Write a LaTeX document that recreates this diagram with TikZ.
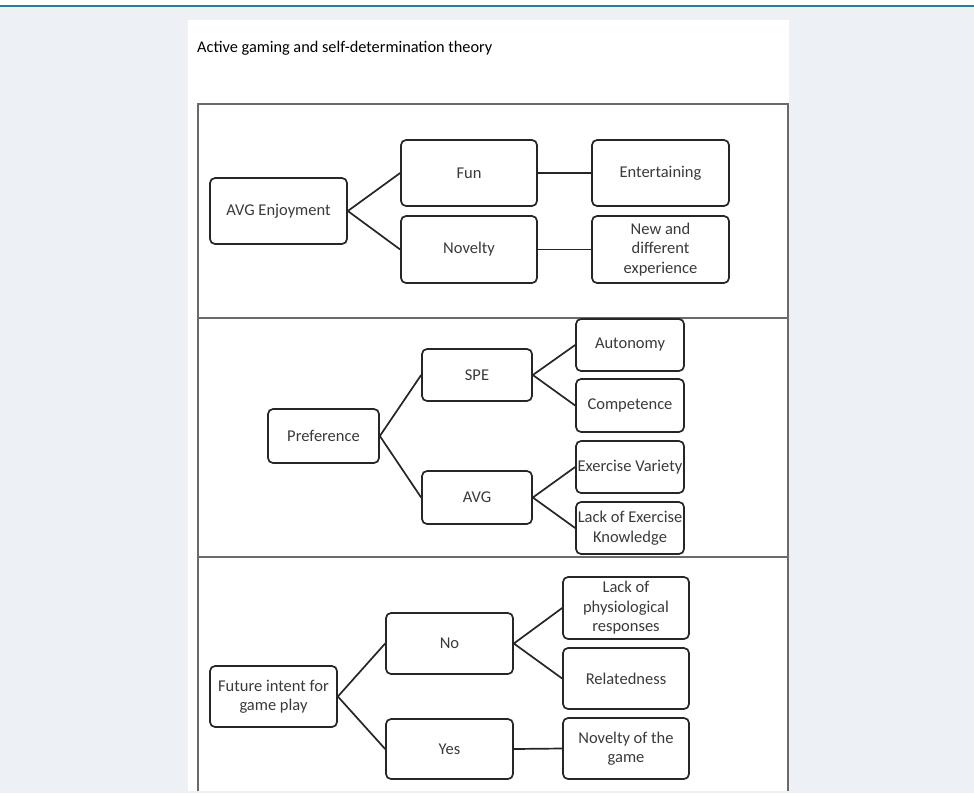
\documentclass[tikz,border=0pt]{standalone}
\usepackage{fontspec}
\setmainfont{Carlito}
\definecolor{bgcol}{HTML}{EDF1F5}
\definecolor{teal}{HTML}{2A7D96}
\definecolor{framecol}{HTML}{6A6A6A}
\definecolor{boxcol}{HTML}{262626}
\definecolor{txtcol}{HTML}{3A3A3A}
\begin{document}
\begin{tikzpicture}[x=1pt,y=-1pt,
  box/.style={draw=boxcol, line width=1.7pt, rounded corners=5pt, align=center,
    inner sep=0pt, text=txtcol, font=\fontsize{16.5}{19.5}\selectfont},
  conn/.style={draw=boxcol, line width=1.7pt},
  frame/.style={draw=framecol, line width=1.6pt}]
\useasboundingbox (0,0) rectangle (974,793);
\fill[bgcol] (0,0) rectangle (974,793);
\fill[white] (0,0) rectangle (974,4.5);
\fill[teal] (0,4.5) rectangle (974,6.5);
\fill[white] (188,20) rectangle (789,791);
\node[anchor=base west, inner sep=0pt, font=\fontsize{16.3}{19}\selectfont, text=black] (title) at (197,52) {Active gaming and self-determination theory};
% frame
\draw[frame] (198,791) -- (198,104) -- (788,104) -- (788,791);
\draw[frame] (198,318) -- (788,318);
\draw[frame] (198,557) -- (788,557);
% section 1
\node[box, minimum width=137pt, minimum height=66pt] (enj) at (278.5,211) {AVG Enjoyment};
\node[box, minimum width=136pt, minimum height=66pt] (fun) at (469,173) {Fun};
\node[box, minimum width=136pt, minimum height=67pt] (nov) at (469,249.5) {Novelty};
\node[box, minimum width=137pt, minimum height=66pt] (ent) at (660.5,173) {Entertaining};
\node[box, minimum width=137pt, minimum height=67pt] (newx) at (660.5,249.5) {New and\\different\\experience};
\draw[conn] (fun.west) -- (enj.east) -- (nov.west);
\draw[conn] (fun.east) -- (ent.west);
\draw[conn] (nov.east) -- (newx.west);
% section 2
\node[box, minimum width=111pt, minimum height=54pt] (pref) at (323.5,436) {Preference};
\node[box, minimum width=110pt, minimum height=52pt] (spe) at (477,375) {SPE};
\node[box, minimum width=110pt, minimum height=53pt] (avg) at (477,497.5) {AVG};
\node[box, minimum width=108pt, minimum height=52pt] (aut) at (630,345) {Autonomy};
\node[box, minimum width=108pt, minimum height=53pt] (comp) at (630,405.5) {Competence};
\node[box, minimum width=108pt, minimum height=52pt] (var) at (630,467) {Exercise Variety};
\node[box, minimum width=108pt, minimum height=52pt] (know) at (630,528) {Lack of Exercise\\Knowledge};
\draw[conn] (spe.west) -- (pref.east) -- (avg.west);
\draw[conn] (aut.west) -- (spe.east) -- (comp.west);
\draw[conn] (var.west) -- (avg.east) -- (know.west);
% section 3
\node[box, minimum width=127pt, minimum height=61pt] (fut) at (273.5,696.5) {Future intent for\\game play};
\node[box, minimum width=127pt, minimum height=61pt] (no) at (449.5,643.5) {No};
\node[box, minimum width=127pt, minimum height=60pt] (yes) at (449.5,749) {Yes};
\node[box, minimum width=126pt, minimum height=62pt] (phys) at (626,608) {Lack of\\physiological\\responses};
\node[box, minimum width=126pt, minimum height=61pt] (rel) at (626,678.5) {Relatedness};
\node[box, minimum width=126pt, minimum height=61pt] (novg) at (626,748.5) {Novelty of the\\game};
\draw[conn] (no.west) -- (fut.east) -- (yes.west);
\draw[conn] (phys.west) -- (no.east) -- (rel.west);
\draw[conn] (yes.east) -- (novg.west);
\end{tikzpicture}
\end{document}
